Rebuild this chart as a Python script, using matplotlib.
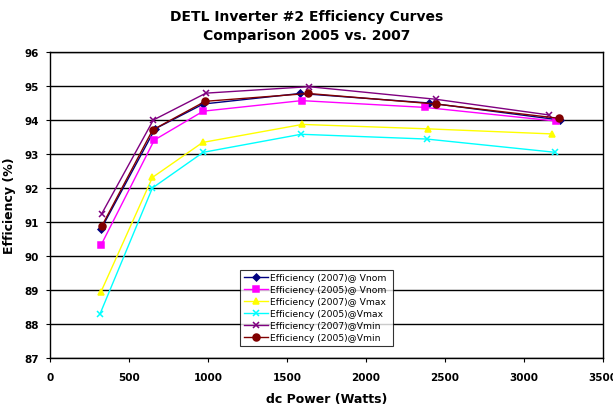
import matplotlib
matplotlib.use("Agg")
import matplotlib.pyplot as plt

labels = ["Efficiency (2007)@ Vnom", "Efficiency (2005)@ Vnom", "Efficiency (2007)@ Vmax",
          "Efficiency (2005)@Vmax", "Efficiency (2007)@Vmin", "Efficiency (2005)@Vmin"]

x_2007_vnom = [323, 665, 970, 1582, 2399, 3228]
y_2007_vnom = [90.79, 93.74, 94.47, 94.78, 94.50, 94.00]
x_2005_vnom = [323, 660, 970, 1593, 2375, 3200]
y_2005_vnom = [90.32, 93.41, 94.26, 94.57, 94.37, 93.97]
x_2007_vmax = [323, 648, 966, 1597, 2390, 3180]
y_2007_vmax = [88.95, 92.31, 93.34, 93.87, 93.74, 93.59]
x_2005_vmax = [316, 648, 970, 1589, 2384, 3196]
y_2005_vmax = [88.29, 92.00, 93.05, 93.58, 93.44, 93.05]
x_2007_vmin = [327, 654, 987, 1637, 2441, 3156]
y_2007_vmin = [91.24, 94.00, 94.79, 94.98, 94.61, 94.15]
x_2005_vmin = [329, 650, 983, 1635, 2441, 3222]
y_2005_vmin = [90.89, 93.71, 94.55, 94.78, 94.47, 94.05]

series = [
    (x_2007_vnom, y_2007_vnom, "#000080", "D", 3.5),
    (x_2005_vnom, y_2005_vnom, "#FF00FF", "s", 4.5),
    (x_2007_vmax, y_2007_vmax, "#FFFF00", "^", 5),
    (x_2005_vmax, y_2005_vmax, "#00FFFF", "x", 5),
    (x_2007_vmin, y_2007_vmin, "#800080", "x", 5),
    (x_2005_vmin, y_2005_vmin, "#800000", "o", 5),
]

fig = plt.figure(figsize=(6.13, 4.06), dpi=100)
ax = fig.add_axes([50/613, 1-359/406, 553/613, 306/406])

for (xs, ys, c, m, ms), lab in zip(series, labels):
    ax.plot(xs, ys, color=c, marker=m, markersize=ms, linewidth=1.0, label=lab,
            markeredgecolor=c, markeredgewidth=1.1)

ax.set_xlim(0, 3500)
ax.set_ylim(87, 96)
ax.set_xticks(range(0, 3501, 500))
ax.set_yticks(range(87, 97))
ax.yaxis.grid(True, color="black", linewidth=1)
ax.set_axisbelow(True)
for lab in ax.get_xticklabels() + ax.get_yticklabels():
    lab.set_fontweight("bold")
ax.tick_params(labelsize=7.5, direction="out", length=3, color="black")
ax.tick_params(axis="x", pad=7)
ax.tick_params(axis="y", pad=5)
for s in ax.spines.values():
    s.set_color("black")
    s.set_linewidth(1)
ax.set_xlabel("dc Power (Watts)", fontsize=9, fontweight="bold", labelpad=7)
ax.set_ylabel("Efficiency (%)", fontsize=9, fontweight="bold", labelpad=6)
fig.suptitle("DETL Inverter #2 Efficiency Curves\nComparison 2005 vs. 2007",
             fontsize=10, fontweight="bold", y=0.975, linespacing=1.45)

leg = ax.legend(loc="lower left", bbox_to_anchor=(0.344, 0.039, 0.277, 0.307),
                mode="expand", fontsize=6.6, frameon=True, fancybox=False,
                edgecolor="black", borderpad=0.4, labelspacing=0.33,
                handlelength=2.6, handletextpad=0.3, borderaxespad=0)
leg.get_frame().set_linewidth(0.8)

fig.savefig("out.png", dpi=100)
